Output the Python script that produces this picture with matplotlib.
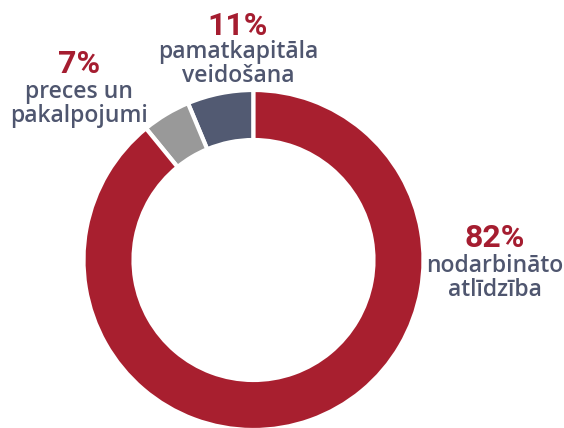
import matplotlib.pyplot as plt

# Slice sizes as drawn in the ring (degrees, in %)
categories = [['pamatkapitāla', 'veidošana'],
              ['preces un', 'pakalpojumi'],
              ['nodarbināto', 'atlīdzība']]
slice_sizes = [6.3, 4.6, 89.1]
pct_labels = ['11%', '7%', '82%']
colors = ['#525a72', '#999999', '#a81f2f']

fig = plt.figure(figsize=(5.64, 4.28), dpi=100)
ax = fig.add_axes([0, 0, 1, 1])

# Donut, starting at 12 o'clock and going counterclockwise
ax.pie(slice_sizes, colors=colors, startangle=90, counterclock=True,
       center=(253.5, 168), radius=170,
       wedgeprops=dict(width=50, edgecolor='white', linewidth=3))

ax.set_xlim(0, 564)
ax.set_ylim(0, 428)
ax.set_aspect('equal')
ax.axis('off')

red = '#a51d30'
navy = '#4f566f'
pct_font = ['Roboto', 'DejaVu Sans']
name_font = ['Open Sans', 'DejaVu Sans']

# x centre and baselines (pixels from the top) of each label block
label_pos = [(238, 35, 58), (79, 73, 98), (495, 247, 272)]
for lines, pct, (x, y_pct, y_name) in zip(categories, pct_labels, label_pos):
    ax.text(x, 428 - y_pct, pct, color=red, fontsize=23, fontweight='bold',
            family=pct_font, ha='center', va='baseline')
    for i, line in enumerate(lines):
        ax.text(x, 428 - y_name - 24 * i, line, color=navy, fontsize=16.5,
                fontweight='semibold', family=name_font,
                ha='center', va='baseline')

fig.savefig('out.png', dpi=100)
